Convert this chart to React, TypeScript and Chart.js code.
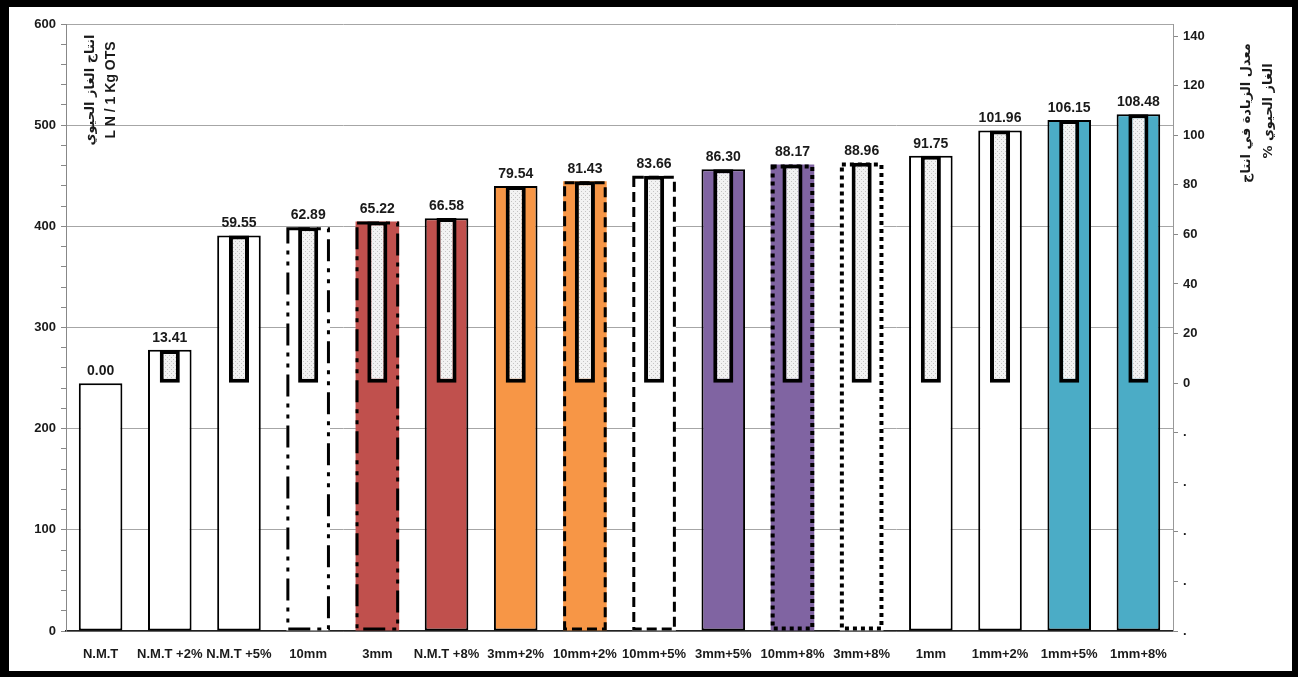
import React, { useEffect, useRef } from 'react';
import { Chart, registerables } from 'chart.js';

Chart.register(...registerables);

// Treatments along the x axis
const categories = [
  'N.M.T', 'N.M.T +2%', 'N.M.T +5%', '10mm', '3mm', 'N.M.T +8%', '3mm+2%', '10mm+2%',
  '10mm+5%', '3mm+5%', '10mm+8%', '3mm+8%', '1mm', '1mm+2%', '1mm+5%', '1mm+8%',
];

// Biogas yield, L N / 1 Kg OTS (left axis)
const biogasYield = [
  245.0, 277.9, 390.9, 399.1, 404.8, 408.1, 439.9, 444.5,
  450.0, 456.4, 461.0, 463.0, 469.8, 494.8, 505.1, 510.8,
];

// Increase in biogas yield relative to N.M.T, % (right axis)
const increasePct = [
  0.0, 13.41, 59.55, 62.89, 65.22, 66.58, 79.54, 81.43,
  83.66, 86.3, 88.17, 88.96, 91.75, 101.96, 106.15, 108.48,
];

const barFills = [
  '#FFFFFF', '#FFFFFF', '#FFFFFF', '#FFFFFF', '#C0504D', '#C0504D', '#F79646', '#F79646',
  '#FFFFFF', '#8064A2', '#8064A2', '#FFFFFF', '#FFFFFF', '#FFFFFF', '#4BACC6', '#4BACC6',
];

const outlineStyles = [
  'solid', 'solid', 'solid', 'dashdot', 'dashdot', 'solid', 'solid', 'dashed',
  'dashed', 'solid', 'dotted', 'dotted', 'solid', 'solid', 'solid', 'solid',
];

const leftAxisMax = 600;
const leftTickStep = 20;
const leftLabelStep = 100;
const rightAxisMin = -100;
const rightTickStep = 20;

const dashSpecs: Record<string, { dash: number[]; width: number }> = {
  dashdot: { dash: [22, 7, 4, 7, 4, 7], width: 3 },
  dashed: { dash: [10, 5], width: 3 },
  dotted: { dash: [4, 4], width: 4 },
};

const textColor = '#1a1a1a';

function makeStipple(): CanvasPattern | string {
  const c = document.createElement('canvas');
  c.width = 4;
  c.height = 4;
  const g = c.getContext('2d');
  if (!g) return '#e6e6e6';
  g.fillStyle = '#f2f2f2';
  g.fillRect(0, 0, 4, 4);
  g.fillStyle = '#c4c4c4';
  g.fillRect(0, 0, 1, 1);
  g.fillRect(2, 2, 1, 1);
  return g.createPattern(c, 'repeat') || '#e6e6e6';
}

// Dashed / dotted outlines for the outer bars
const outlinePlugin = {
  id: 'barOutlines',
  afterDatasetDraw(chart: any, args: any) {
    if (args.index !== 0) return;
    const ctx = chart.ctx;
    const meta = chart.getDatasetMeta(0);
    meta.data.forEach((el: any, i: number) => {
      const spec = dashSpecs[outlineStyles[i]];
      if (!spec) return;
      const { x, y, base, width } = el.getProps(['x', 'y', 'base', 'width'], true);
      const lw = spec.width;
      ctx.save();
      ctx.setLineDash(spec.dash);
      ctx.lineWidth = lw;
      ctx.strokeStyle = '#000';
      ctx.strokeRect(x - width / 2 + lw / 2, y + lw / 2, width - lw, base - y - lw);
      ctx.restore();
    });
  },
};

// Percentage labels above the inner bars
const valueLabelPlugin = {
  id: 'valueLabels',
  afterDatasetsDraw(chart: any) {
    const ctx = chart.ctx;
    const meta = chart.getDatasetMeta(1);
    ctx.save();
    ctx.font = 'bold 14px "Liberation Sans", Arial, sans-serif';
    ctx.fillStyle = textColor;
    ctx.textAlign = 'center';
    ctx.textBaseline = 'bottom';
    meta.data.forEach((el: any, i: number) => {
      const { x, y } = el.getProps(['x', 'y'], true);
      ctx.fillText(increasePct[i].toFixed(2), x, y - 5);
    });
    ctx.restore();
  },
};

// Rotated axis titles
const axisTitlePlugin = {
  id: 'axisTitles',
  afterDraw(chart: any) {
    const ctx = chart.ctx;
    const area = chart.chartArea;
    const drawVertical = (text: string, cx: number, cy: number, font: string, rtl: boolean) => {
      ctx.save();
      ctx.translate(cx, cy);
      ctx.rotate(-Math.PI / 2);
      ctx.font = font;
      ctx.fillStyle = textColor;
      ctx.textAlign = 'center';
      ctx.textBaseline = 'middle';
      ctx.direction = rtl ? 'rtl' : 'ltr';
      ctx.fillText(text, 0, 0);
      ctx.restore();
    };
    const leftCy = area.top + 66;
    drawVertical('انتاج الغاز الحيوي', area.left + 25, leftCy, 'bold 13px "DejaVu Sans", sans-serif', true);
    drawVertical('L N / 1 Kg OTS', area.left + 45, leftCy, 'bold 14px "Liberation Sans", Arial, sans-serif', false);

    const rightCy = area.top + 89;
    drawVertical('معدل الزيادة في انتاج', area.right + 74, rightCy, 'bold 13px "DejaVu Sans", sans-serif', true);
    drawVertical('الغاز الحيوي %', area.right + 96, rightCy - 2, 'bold 13px "DejaVu Sans", sans-serif', true);
  },
};

export default function App() {
  const canvasRef = useRef<HTMLCanvasElement | null>(null);

  useEffect(() => {
    const canvas = canvasRef.current;
    if (!canvas) return;
    const stipple = makeStipple();
    const rightAxisMax = (leftAxisMax / biogasYield[0] - 1) * 100;
    const tickFont = { family: '"Liberation Sans", Arial, sans-serif', size: 13, weight: 'bold' as const };

    const chart = new Chart(canvas, {
      type: 'bar',
      data: {
        labels: categories,
        datasets: [
          {
            data: biogasYield,
            yAxisID: 'y',
            backgroundColor: barFills,
            borderColor: '#000',
            borderWidth: outlineStyles.map((s) => (s === 'solid' ? 2 : 0)),
            borderSkipped: false,
            barPercentage: 0.63,
            categoryPercentage: 1,
            grouped: false,
            order: 1,
          },
          {
            data: increasePct,
            yAxisID: 'y2',
            backgroundColor: stipple as any,
            borderColor: '#000',
            borderWidth: increasePct.map((v) => (v === 0 ? 0 : 4)),
            borderSkipped: false,
            barPercentage: 0.29,
            categoryPercentage: 1,
            grouped: false,
            order: 0,
          },
        ],
      },
      options: {
        animation: false,
        responsive: true,
        maintainAspectRatio: false,
        layout: { padding: { top: 17, left: 0, right: 0, bottom: 0 } },
        plugins: {
          legend: { display: false },
          tooltip: { enabled: false },
        },
        scales: {
          x: {
            grid: { display: false },
            border: { display: true, color: '#222', width: 1.5 },
            ticks: { color: textColor, font: tickFont, padding: 8, autoSkip: false, maxRotation: 0 },
            afterFit: (s: any) => {
              s.height = 40;
            },
          },
          y: {
            position: 'left',
            min: 0,
            max: leftAxisMax,
            border: { color: '#888' },
            grid: {
              color: (c: any) => (c.tick && c.tick.value % leftLabelStep === 0 ? '#a6a6a6' : 'rgba(0,0,0,0)'),
              tickColor: '#888',
              tickLength: 5,
            },
            ticks: {
              stepSize: leftTickStep,
              autoSkip: false,
              color: textColor,
              font: tickFont,
              padding: 5,
              callback: (v: any) => (Number(v) % leftLabelStep === 0 ? String(v) : ''),
            },
            afterFit: (s: any) => {
              s.width = 57;
            },
          },
          y2: {
            position: 'right',
            min: rightAxisMin,
            max: rightAxisMax,
            border: { color: '#999' },
            grid: { drawOnChartArea: false, color: '#888', tickLength: 5 },
            ticks: {
              stepSize: rightTickStep,
              includeBounds: false,
              autoSkip: false,
              color: textColor,
              font: tickFont,
              padding: 5,
              callback: (v: any) => (Number(v) < 0 ? '.' : String(v)),
            },
            afterFit: (s: any) => {
              s.width = 119;
            },
          },
        },
      },
      plugins: [outlinePlugin, valueLabelPlugin, axisTitlePlugin],
    });

    return () => chart.destroy();
  }, []);

  return (
    <div style={{ position: 'fixed', left: 0, top: 0, width: 1298, height: 677, background: '#000' }}>
      <div style={{ position: 'absolute', left: 9, top: 7, width: 1283, height: 664, background: '#fff' }}>
        <canvas ref={canvasRef} />
      </div>
    </div>
  );
}
